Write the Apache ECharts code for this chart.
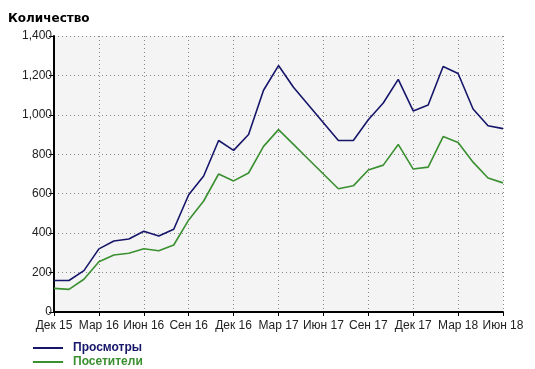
<!DOCTYPE html>
<html>
<head>
<meta charset="utf-8">
<script src="https://cdn.jsdelivr.net/npm/echarts@6/dist/echarts.min.js"></script>
<style>
html,body{margin:0;padding:0;background:#fff;}
#chart{width:535px;height:369px;}
</style>
</head>
<body>
<div id="chart"></div>
<script>
const categories = [
 'Дек 15','Янв 16','Фев 16','Мар 16','Апр 16','Май 16','Июн 16','Июл 16','Авг 16','Сен 16','Окт 16','Ноя 16',
 'Дек 16','Янв 17','Фев 17','Мар 17','Апр 17','Май 17','Июн 17','Июл 17','Авг 17','Сен 17','Окт 17','Ноя 17',
 'Дек 17','Янв 18','Фев 18','Мар 18','Апр 18','Май 18','Июн 18'
];
const views = [160,160,210,320,360,370,410,385,420,595,690,870,820,900,1125,1250,1140,1050,960,870,870,975,1060,1180,1020,1050,1245,1210,1030,945,930];
const visitors = [120,115,166,255,289,298,321,311,340,467,563,700,665,705,840,925,850,775,700,625,640,720,745,850,725,735,890,860,760,680,655];
const yTicks = [0,200,400,600,800,1000,1200,1400];

const blue = '#16166a';
const green = '#3a9030';
const font = 'Arial, "Liberation Sans", sans-serif';

function legendItem(name, color, top) {
  return {
    orient: 'vertical',
    left: 33, top: top, padding: 0,
    itemWidth: 30, itemHeight: 2,
    icon: 'rect',
    data: [{name: name, textStyle: {color: color}}],
    textStyle: {fontFamily: font, fontSize: 12, fontWeight: 'bold', padding: [0,0,0,5]}
  };
}

const chart = echarts.init(document.getElementById('chart'), null, {renderer:'canvas'});
chart.setOption({
  backgroundColor: '#ffffff',
  animation: false,
  title: {
    text: 'Количество',
    left: 3, top: 8,
    textStyle: {fontFamily: '"DejaVu Sans", Verdana, sans-serif', fontSize: 12, fontWeight: 'bold', color: '#000'}
  },
  legend: [
    legendItem('Просмотры', blue, 342),
    legendItem('Посетители', green, 356)
  ],
  grid: {
    left: 54, right: 32, top: 36, bottom: 57,
    show: true, backgroundColor: '#f4f4f4', borderWidth: 0
  },
  xAxis: {
    type: 'category',
    data: categories,
    boundaryGap: false,
    axisLine: {lineStyle: {color: '#000', width: 2}},
    axisTick: {interval: 2, length: 4, lineStyle: {color: '#000', width: 1}},
    axisLabel: {interval: 2, margin: 8, fontFamily: font, fontSize: 12, color: '#222'},
    splitLine: {show: true, interval: 2, lineStyle: {color: '#888', type: [1,3], width: 1}}
  },
  yAxis: {
    type: 'value',
    min: yTicks[0], max: yTicks[yTicks.length-1], interval: 200,
    axisLine: {show: true, lineStyle: {color: '#000', width: 2}},
    axisTick: {show: true, length: 5, lineStyle: {color: '#000'}},
    axisLabel: {margin: 2, fontFamily: font, fontSize: 12, color: '#222',
      formatter: v => v.toLocaleString('en-US')},
    splitLine: {show: true, lineStyle: {color: '#888', type: [1,3], width: 1}}
  },
  series: [
    {name: 'Просмотры', type: 'line', data: views, showSymbol: false, symbol: 'none',
     lineStyle: {color: blue, width: 1.6}, itemStyle: {color: blue}},
    {name: 'Посетители', type: 'line', data: visitors, showSymbol: false, symbol: 'none',
     lineStyle: {color: green, width: 1.6}, itemStyle: {color: green}}
  ]
});
</script>
</body>
</html>
